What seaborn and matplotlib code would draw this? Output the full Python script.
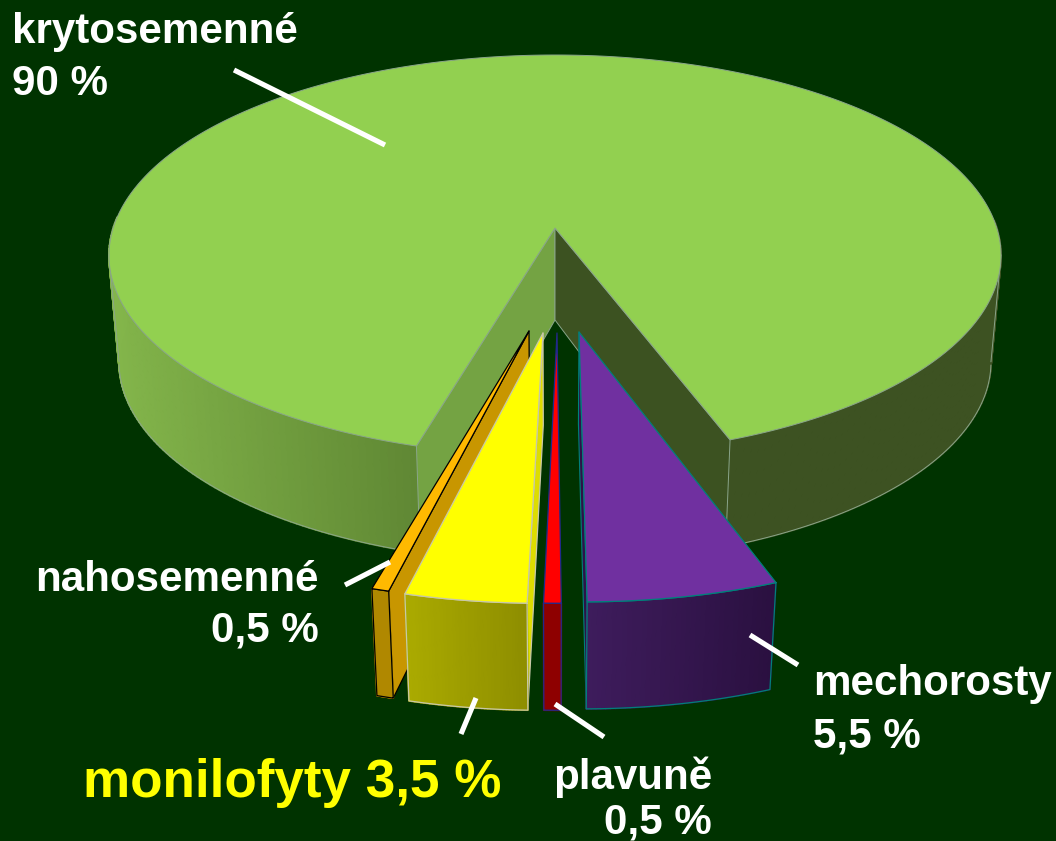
import numpy as np
import matplotlib
matplotlib.use("Agg")
import matplotlib.pyplot as plt
from matplotlib.patches import Polygon
from matplotlib.colors import to_rgb
import seaborn as sns

# ---- data ----
slice_names = ["mechorosty", "plavuně", "monilofyty", "nahosemenné", "krytosemenné"]
slice_shares = [5.5, 0.5, 3.5, 0.5, 90.0]
percent_labels = ["5,5 %", "0,5 %", "3,5 %", "0,5 %", "90 %"]

# ---- style ----
BG = "#003300"
top_colors = sns.color_palette(["#7030A0", "#FF0000", "#FFFF00", "#FFB900", "#92D050"])
side_left = ["#3E1C5C", "#8E0000", "#AAAA00", "#B08800", "#82B44A"]
side_right = ["#2A1040", "#8E0000", "#8E8E00", "#B08800", "#608834"]
inner_colors = ["#2E1248", "#8E0000", "#DDDD00", "#C89600", "#74A343"]
edge_colors = ["#00807A", "#1F2A8C", "#C8C8A8", "#000000", "#8AA58A"]
MAIN_RIGHT_SIDE = "#3D5222"
MAIN_RIGHT_INNER = "#3C5221"

# ---- projection layout (pixels) ----
CX, CY = 555.0, 228.0
K = 0.137
A = 441.8
B = 196.7
DEPTH = 107.0
APEX_DEPTH = 92.0
M = 0.0226
ROTATION = 20.2
SLICE_R = 1.015
apex_px = [(579, 332), (557, 333), (543, 333), (529, 331)]


def top(u, v):
    d = 1 - K * v
    return CX + A * u / d, CY + B * v / d


def bottom(u, v, depth=DEPTH):
    d = 1 - K * v
    x, y = top(u, v)
    return CX + (x - CX) * d / (d + M), y + depth


def invert(px, py):
    w = (py - CY) / B
    v = w / (1 + K * w)
    return (px - CX) * (1 - K * v) / A, v


def arc(a0, a1, n, u0=0.0, v0=0.0, r=1.0):
    t = np.radians(np.linspace(a0, a1, n))
    return u0 + r * np.sin(t), v0 + r * np.cos(t)


def mix(c0, c1, f):
    c0, c1 = np.array(to_rgb(c0)), np.array(to_rgb(c1))
    return tuple(c0 + (c1 - c0) * f)


sns.set_style("white")
fig = plt.figure(figsize=(10.56, 8.41), dpi=100, facecolor=BG)
ax = fig.add_axes([0, 0, 1, 1])
ax.set_xlim(0, 1056)
ax.set_ylim(841, 0)
ax.axis("off")
plt.rcParams["font.family"] = ["Liberation Sans", "DejaVu Sans"]

# angles of the slices, clockwise seen from above
shares = np.array(slice_shares)
spans = shares / shares.sum() * 360.0
edges = ROTATION - np.concatenate([[0], np.cumsum(spans)])
zo = [1]


def poly(points, face, edge=None, lw=0.8):
    zo[0] += 1
    ax.add_patch(Polygon(points, closed=True, facecolor=face,
                         edgecolor=edge if edge is not None else face,
                         linewidth=lw, joinstyle="round", zorder=zo[0]))


def outline(x, y, col, lw=0.7):
    zo[0] += 1
    ax.plot(x, y, color=col, lw=lw, zorder=zo[0], solid_capstyle="round")


# ---- main slice ----
i_main = 4
us, vs = arc(edges[4], edges[5], 361)
edge = edge_colors[i_main]
tx, ty = top(us, vs)
bx, by = bottom(us, vs)
# outer wall
for j in range(len(us) - 1):
    if vs[j] < -0.05:
        continue
    quad = [(tx[j], ty[j]), (tx[j + 1], ty[j + 1]), (bx[j + 1], by[j + 1]), (bx[j], by[j])]
    if us[j] > 0:
        col = MAIN_RIGHT_SIDE
    else:
        col = mix(side_left[i_main], side_right[i_main], (tx[j] - bx.min()) / (417 - bx.min()))
    poly(quad, col, col, 1.3)
# silhouette of the wall
for side in (us > 0, us < 0):
    mask = side & (vs > K)
    outline(bx[mask], by[mask], edge)
    ext = np.argmax(np.abs(tx - CX) * side)
    outline([tx[ext], bx[ext]], [ty[ext], by[ext]], edge)
# inner walls
apex_b = bottom(0, 0, APEX_DEPTH)
for idx, col in ((0, inner_colors[i_main]), (-1, MAIN_RIGHT_INNER)):
    poly([(CX, CY), (tx[idx], ty[idx]), (bx[idx], by[idx]), apex_b], col, edge, 0.7)
# top
poly(np.vstack([[CX, CY], np.column_stack([tx, ty])]), top_colors[i_main], edge, 0.7)

# ---- exploded slices, back to front ----
for i in (3, 2, 1, 0):
    u0, v0 = invert(*apex_px[i])
    us, vs = arc(edges[i], edges[i + 1], 40, u0, v0, SLICE_R)
    tx, ty = top(us, vs)
    bx, by = bottom(us, vs)
    ec = edge_colors[i]
    ab = bottom(u0, v0, APEX_DEPTH)
    at = top(u0, v0)
    # the visible cut face
    if i == 0:
        poly([at, (tx[-1], ty[-1]), (bx[-1], by[-1]), ab], inner_colors[i], ec, 0.8)
    elif i != 1:
        poly([at, (tx[0], ty[0]), (bx[0], by[0]), ab], inner_colors[i], ec, 0.9)
    # outer wall
    for j in range(len(us) - 1):
        quad = [(tx[j], ty[j]), (tx[j + 1], ty[j + 1]), (bx[j + 1], by[j + 1]), (bx[j], by[j])]
        f = 1 - j / (len(us) - 2)
        poly(quad, mix(side_left[i], side_right[i], f), None, 1.3)
    outline(np.r_[tx, bx[::-1], tx[0]], np.r_[ty, by[::-1], ty[0]], ec, 0.9)
    # top
    poly(np.vstack([at, np.column_stack([tx, ty])]), top_colors[i], ec, 0.9)

# ---- leader lines ----
leaders = [((234, 70), (385, 145)), ((345, 585), (390, 562)), ((461, 734), (476, 698)),
           ((604, 737), (555, 704)), ((798, 665), (750, 635))]
zo[0] += 1
for p, q in leaders:
    ax.plot([p[0], q[0]], [p[1], q[1]], color="white", lw=3.7, solid_capstyle="butt", zorder=zo[0])

# ---- labels ----
FS = 30.3
zo[0] += 1


def label(x, y, s, ha="left", color="white", fs=FS):
    ax.text(x, y, s, ha=ha, va="baseline", color=color, fontsize=fs, fontweight="bold", zorder=zo[0])


label(12, 43, slice_names[4])
label(12, 95, percent_labels[4])
label(319, 591, slice_names[3], "right")
label(319, 641, percent_labels[3], "right")
label(83, 797, f"{slice_names[2]} {percent_labels[2]}", color="#FFFF00", fs=38.2)
label(712, 789, slice_names[1], "right")
label(712, 834, percent_labels[1], "right")
label(813, 695, slice_names[0])
label(813, 747, percent_labels[0])

fig.savefig("out.png", dpi=100, facecolor=BG)
